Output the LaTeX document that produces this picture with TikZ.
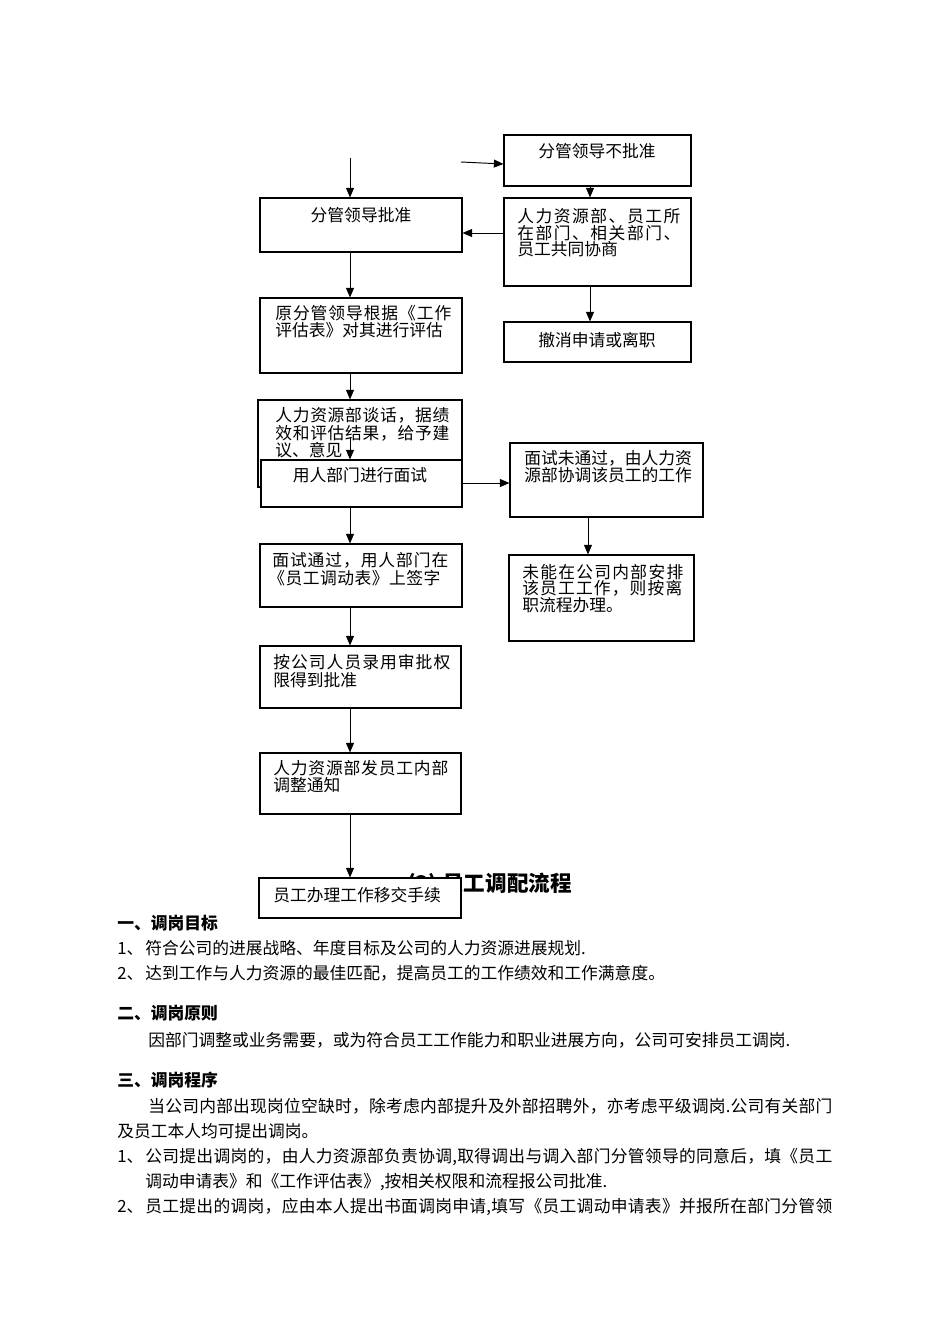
\documentclass[tikz,border=0pt]{standalone}
\usepackage{fontspec}
\setmainfont{Noto Sans CJK SC}
\usetikzlibrary{arrows.meta}
\newdimen\pxu \pxu=0.62631pt
\def\mysprEnd{}
\def\myspr#1{\mysprA#1\mysprEnd}
\def\mysprA#1{\ifx#1\mysprEnd\else#1\hfil\expandafter\mysprA\fi}
\newcommand\jline[2]{\hbox to #1\pxu{\myspr{#2}\unskip}}
\tikzset{
  box/.style={draw, line width=0.7pt, fill=white, inner sep=0pt, rectangle},
  txt/.style={inner sep=0pt, font=\fontsize{10.5}{12}\selectfont, text height=9.2pt, text depth=1.3pt, anchor=west},
  ctxt/.style={txt, anchor=center},
  head/.style={txt, font=\bfseries\fontsize{10.5}{12}\selectfont},
  ttl/.style={inner sep=0pt, font=\bfseries\fontsize{13.5}{16}\selectfont, anchor=base east},
  arr/.style={line width=0.6pt, -{Triangle[length=6pt,width=5pt]}}
}
\newcommand\bx[5]{\node[box, minimum width={(#4-#2)*0.62631pt}, minimum height={(#5-#3)*0.62631pt}] (#1) at ({(#2+#4)/2},{(#3+#5)/2}) {};}
\begin{document}
\begin{tikzpicture}[x=0.62631pt, y=-0.62631pt]
\useasboundingbox (0,0) rectangle (950,1344);
\fill[white] (0,0) rectangle (950,1344);

% helper coordinates
\coordinate (X350) at (350,0);
\coordinate (X590) at (590,0);
\coordinate (X588) at (588,0);
\coordinate (Y233) at (0,233);
\coordinate (Y483) at (0,483);
\coordinate (E2) at (0,164);
\coordinate (s1) at (350,158);
\coordinate (s2) at (461,162);
\coordinate (s3) at (350,437);

% right column top
\bx{B1}{504}{135}{691}{186}
\node[ctxt] (t1) at (597,151) {分管领导不批准};
\bx{B2}{504}{198}{691}{286}
\node[txt] (t2a) at (517,216) {\jline{163}{人力资源部、员工所}};
\node[txt] (t2b) at (517,233) {\jline{163}{在部门、相关部门、}};
\node[txt] (t2c) at (517,249) {员工共同协商};
\bx{B4}{504}{322}{691}{362}
\node[ctxt] (t4) at (597,340) {撤消申请或离职};

% left column
\bx{B3}{260}{198}{462}{252}
\node[ctxt] (t3) at (361,215) {分管领导批准};
\bx{B5}{260}{298}{462}{373}
\node[txt] (t5a) at (275,313) {\jline{176}{原分管领导根据《工作}};
\node[txt] (t5b) at (275,330) {评估表》对其进行评估};
\bx{B6}{258}{400}{462}{487}
\node[txt] (t6a) at (275,415) {\jline{174}{人力资源部谈话，据绩}};
\node[txt] (t6b) at (275,433) {\jline{174}{效和评估结果，给予建}};
\node[txt] (t6c) at (275,450) {议、意见};
\bx{B7}{261}{460}{462}{507}
\node[ctxt] (t7) at (360,475) {用人部门进行面试};

% right column middle
\bx{B8}{510}{443}{703}{517}
\node[txt] (t8a) at (524,458) {\jline{166}{面试未通过，由人力资}};
\node[txt] (t8b) at (524,475) {\jline{165}{源部协调该员工的工作}};
\bx{B9}{509}{555}{694}{641}
\node[txt] (t9a) at (522,572) {\jline{161}{未能在公司内部安排}};
\node[txt] (t9b) at (522,588) {\jline{160}{该员工工作，则按离}};
\node[txt] (t9c) at (522,605) {职流程办理。};

% left column lower
\bx{B10}{260}{544}{462}{607}
\node[txt] (t10a) at (272,560) {\jline{176}{面试通过，用人部门在}};
\node[txt] (t10b) at (268,578) {\jline{172}{《员工调动表》上签字}};
\bx{B11}{260}{646}{461}{708}
\node[txt] (t11a) at (273,662) {\jline{177}{按公司人员录用审批权}};
\node[txt] (t11b) at (273,680) {限得到批准};
\bx{B12}{260}{753}{461}{814}
\node[txt] (t12a) at (273,768) {\jline{175}{人力资源部发员工内部}};
\node[txt] (t12b) at (273,785) {调整通知};

% title partly hidden behind last box
\node[ttl] (T) at (572,891) {(3) 员工调配流程};
\bx{B13}{259}{878}{461}{918}
\node[txt] (t13) at (273,895) {员工办理工作移交手续};

% connectors
\draw[arr] (s1) -- (s1 |- B3.north);
\draw[arr] (s2) -- (B1.west |- E2);
\draw[arr] (B1.south -| X590) -- (B2.north -| X590);
\draw[arr] (B2.west |- Y233) -- (B3.east |- Y233);
\draw[arr] (B2.south -| X590) -- (B4.north -| X590);
\draw[arr] (B3.south -| X350) -- (B5.north -| X350);
\draw[arr] (B5.south -| X350) -- (B6.north -| X350);
\draw[arr] (s3) -- (s3 |- B7.north);
\draw[arr] (B7.east |- Y483) -- (B8.west |- Y483);
\draw[arr] (B8.south -| X588) -- (B9.north -| X588);
\draw[arr] (B7.south -| X350) -- (B10.north -| X350);
\draw[arr] (B10.south -| X350) -- (B11.north -| X350);
\draw[arr] (B11.south -| X350) -- (B12.north -| X350);
\draw[arr] (B12.south -| X350) -- (B13.north -| X350);

% body text
\node[head] (h1) at (117,923) {一、调岗目标};
\node[txt] (n1) at (117,948) {1、};
\node[txt] (l1) at (145,948) {符合公司的进展战略、年度目标及公司的人力资源进展规划.};
\node[txt] (n2) at (117,973) {2、};
\node[txt] (l2) at (145,973) {达到工作与人力资源的最佳匹配，提高员工的工作绩效和工作满意度。};
\node[head] (h2) at (117,1013) {二、调岗原则};
\node[txt] (l3) at (148,1040) {\jline{642}{因部门调整或业务需要，或为符合员工工作能力和职业进展方向，公司可安排员工调岗.}};
\node[head] (h3) at (117,1080) {三、调岗程序};
\node[txt] (l4) at (148,1106) {\jline{684}{当公司内部出现岗位空缺时，除考虑内部提升及外部招聘外，亦考虑平级调岗.公司有关部门}};
\node[txt] (l5) at (117,1131) {及员工本人均可提出调岗。};
\node[txt] (n3) at (117,1156) {1、};
\node[txt] (l6) at (145,1156) {\jline{687}{公司提出调岗的，由人力资源部负责协调,取得调出与调入部门分管领导的同意后，填《员工}};
\node[txt] (l7) at (145,1181) {调动申请表》和《工作评估表》,按相关权限和流程报公司批准.};
\node[txt] (n4) at (117,1206) {2、};
\node[txt] (l8) at (145,1206) {\jline{687}{员工提出的调岗，应由本人提出书面调岗申请,填写《员工调动申请表》并报所在部门分管领}};
\end{tikzpicture}
\end{document}
